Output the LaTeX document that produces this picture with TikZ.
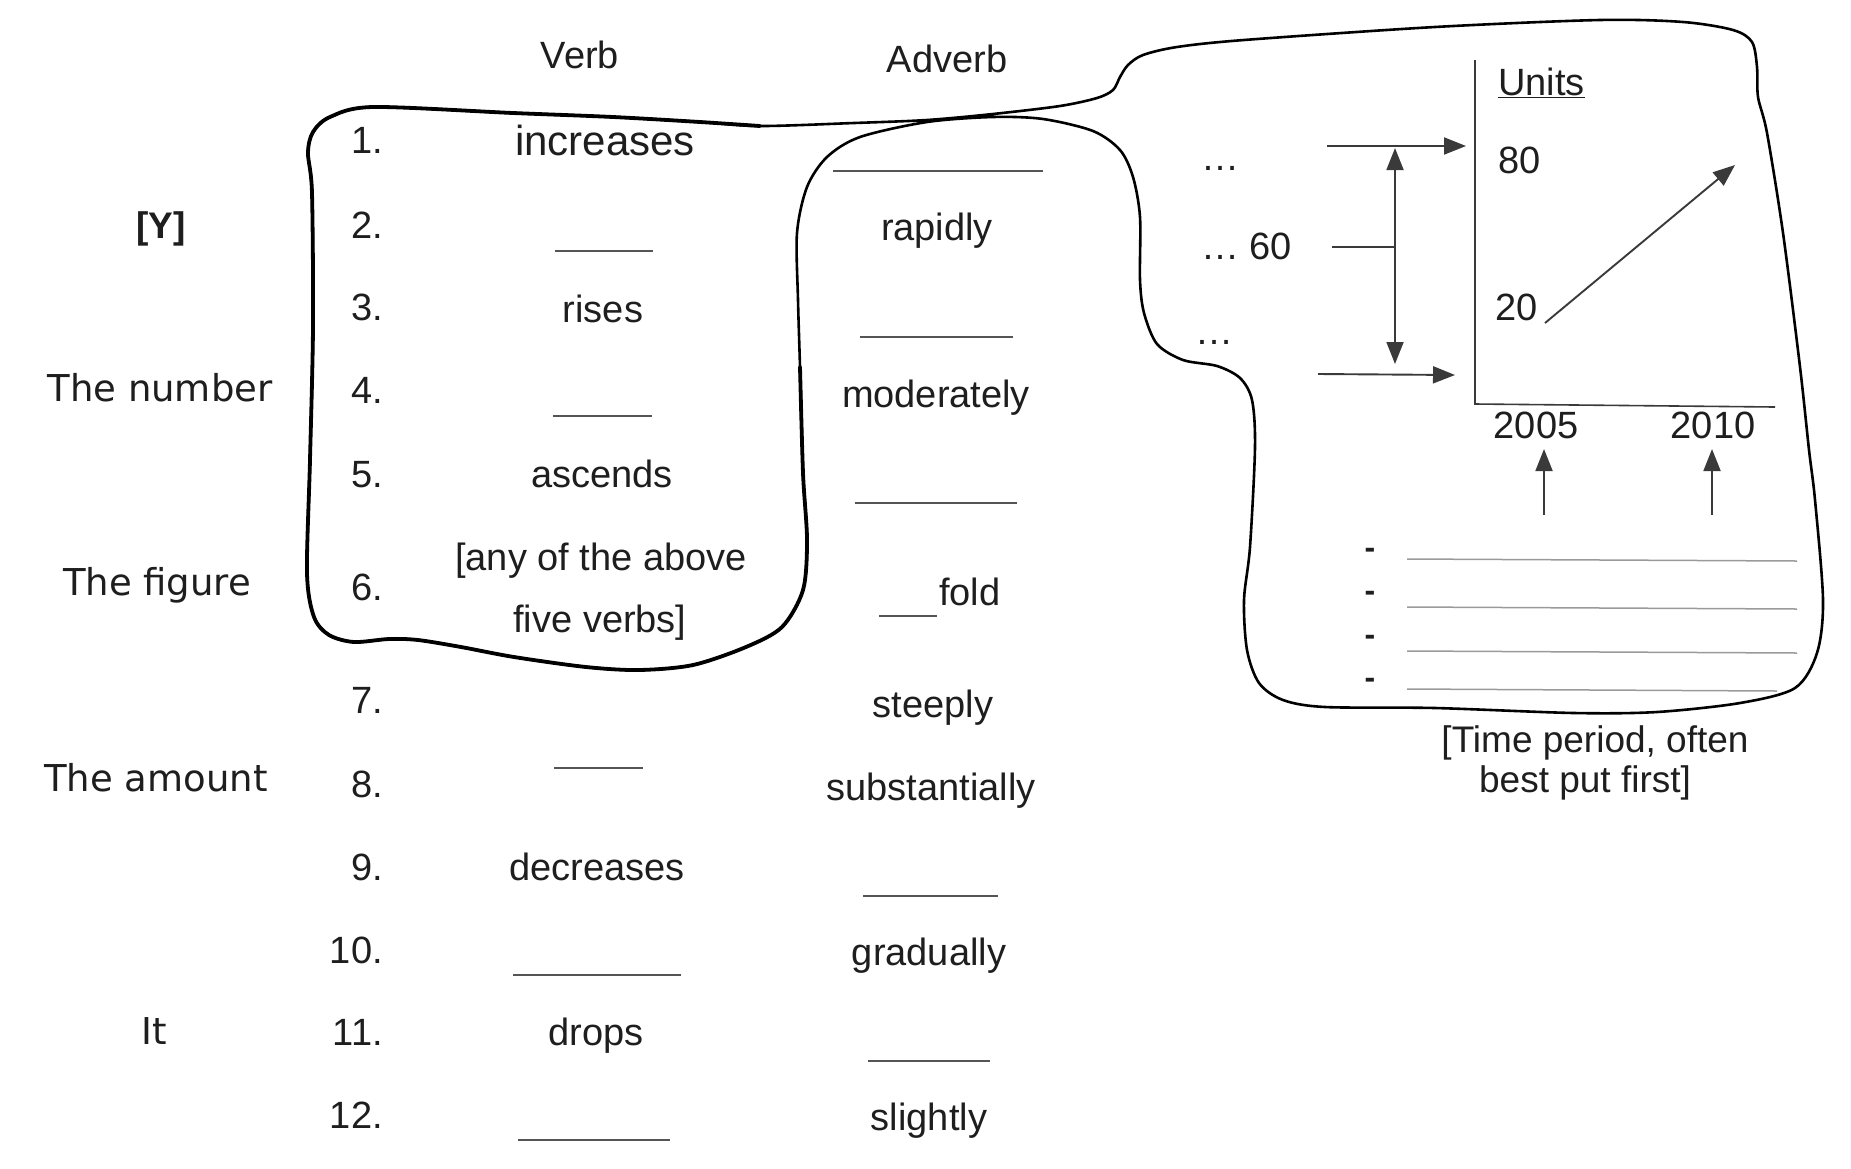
\documentclass[tikz,border=0pt]{standalone}
\usepackage{fontspec}
\setmainfont{Liberation Sans}
\newfontfamily\labfont{DejaVu Sans}
\usetikzlibrary{arrows.meta}
\definecolor{ink}{HTML}{1E1E1E}
\definecolor{arrowgray}{HTML}{3A3A3A}
\definecolor{rulegray}{HTML}{555555}
\definecolor{linegray}{HTML}{9A9A9A}
\tikzset{
  txt/.style={font=\fontsize{38}{46}\selectfont, inner sep=0pt, anchor=base, text=ink},
  numtxt/.style={txt, anchor=base east},
  lefttxt/.style={txt, anchor=base west},
  lab/.style={font=\labfont\fontsize{37}{44}\selectfont, inner sep=0pt, anchor=base, text=ink},
  bullet/.style={txt, font=\fontsize{32}{38}\selectfont\bfseries},
  blank/.style={draw=rulegray, line width=2pt},
  writeline/.style={draw=linegray, line width=1.5pt},
  outline/.style={draw=black, line width=2.6pt, line join=round, line cap=round},
  axisline/.style={draw=arrowgray, line width=1.6pt},
  arr/.style={draw=arrowgray, line width=1.9pt,
    -{Triangle[length=22pt,width=17pt,fill=arrowgray]}},
  dblarr/.style={draw=arrowgray, line width=1.9pt,
    {Triangle[length=22pt,width=17pt,fill=arrowgray]}-{Triangle[length=22pt,width=17pt,fill=arrowgray]}},
  plainline/.style={draw=arrowgray, line width=1.9pt}
}
\begin{document}
\begin{tikzpicture}[x=1pt,y=-1pt]
\useasboundingbox[fill=white] (0,0) rectangle (1851,1168);

% ---- outline enclosing the verbs, the adverb column top and the chart panel
\draw[outline] plot[smooth cycle, tension=0.5] coordinates {
  (373,107) (513,113) (613,117) (700,122) (760,126) (854,123) (927,120)
  (993,114) (1060,106) (1097,98) (1113,90) (1120,77) (1128,65) (1143,55)
  (1177,47) (1244,40) (1435,27) (1600,20) (1683,22) (1733,30) (1752,42)
  (1757,67) (1758,97) (1767,133) (1783,233) (1800,367) (1809,450) (1815,500)
  (1823,600) (1817,653) (1795,688) (1740,703) (1657,712) (1574,713)
  (1435,708) (1325,707) (1283,700) (1259,683) (1247,650) (1244,600)
  (1250,547) (1255,447) (1252,400) (1240,378) (1217,366) (1183,360)
  (1157,344) (1144,313) (1140,280) (1140,217) (1133,177) (1120,150)
  (1093,131) (1043,119) (993,117) (927,122) (860,137) (827,157) (807,187)
  (797,233) (798,300) (800,367) (803,473) (807,540) (803,590) (782,627)
  (746,647) (693,665) (639,670) (586,667) (514,657) (461,647) (418,640)
  (389,639) (354,642) (329,635) (314,617) (307,573) (310,460) (313,327)
  (312,193) (308,153) (313,132) (330,117)};
% heavier stroke round the verb block
\draw[outline, line width=3.8pt] plot[smooth, tension=0.5] coordinates {
  (800,367) (803,473) (807,540) (803,590) (782,627)
  (746,647) (693,665) (639,670) (586,667) (514,657) (461,647) (418,640)
  (389,639) (354,642) (329,635) (314,617) (307,573) (310,460) (313,327)
  (312,193) (308,153) (313,132) (330,117) (373,107) (513,113) (613,117)
  (700,122) (760,126)};

% ---- subject labels
\node[lab, font=\fontsize{37}{44}\selectfont\bfseries] (lY) at (161,238) {[Y]};
\node[lab] (lnum) at (160,401) {The number};
\node[lab] (lfig) at (157,595) {The figure};
\node[lab] (lamt) at (156,791) {The amount};
\node[lab] (lit)  at (154,1044) {It};

% ---- column headers
\node[txt] (hverb) at (580,68) {Verb};
\node[txt] (hadv)  at (947,72) {Adverb};

% ---- row numbers
\node[numtxt] (n1)  at (383,153)  {1.};
\node[numtxt] (n2)  at (383,238)  {2.};
\node[numtxt] (n3)  at (383,320)  {3.};
\node[numtxt] (n4)  at (383,403)  {4.};
\node[numtxt] (n5)  at (383,487)  {5.};
\node[numtxt] (n6)  at (383,600)  {6.};
\node[numtxt] (n7)  at (383,713)  {7.};
\node[numtxt] (n8)  at (383,797)  {8.};
\node[numtxt] (n9)  at (383,880)  {9.};
\node[numtxt] (n10) at (383,963)  {10.};
\node[numtxt] (n11) at (383,1045) {11.};
\node[numtxt] (n12) at (383,1128) {12.};

% ---- verbs
\node[txt, font=\fontsize{42}{50}\selectfont] (v1) at (605,155) {increases};
\node[txt] (v3)  at (603,322)  {rises};
\node[txt] (v5)  at (602,487)  {ascends};
\node[txt] (v6a) at (601,570)  {[any of the above};
\node[txt] (v6b) at (600,632)  {five verbs]};
\node[txt] (v9)  at (597,880)  {decreases};
\node[txt] (v11) at (596,1045) {drops};
\draw[blank] (555,251) -- (653,251);
\draw[blank] (553,416) -- (652,416);
\draw[blank] (554,768) -- (643,768);
\draw[blank] (513,975) -- (681,975);
\draw[blank] (518,1140) -- (670,1140);

% ---- adverbs
\node[txt] (a2)  at (937,240)  {rapidly};
\node[txt] (a4)  at (936,407)  {moderately};
\node[lefttxt] (a6) at (939,605) {fold};
\node[txt] (a7)  at (933,717)  {steeply};
\node[txt] (a8)  at (931,800)  {substantially};
\node[txt] (a10) at (929,965)  {gradually};
\node[txt] (a12) at (929,1130) {slightly};
\draw[blank] (833,171) -- (1043,171);
\draw[blank] (860,337) -- (1013,337);
\draw[blank] (855,503) -- (1017,503);
\draw[blank] (879,616) -- (937,616);
\draw[blank] (863,896) -- (998,896);
\draw[blank] (868,1061) -- (990,1061);

% ---- value labels beside the chart
\node[lefttxt] (d1) at (1201,170) {…};
\node[lefttxt] (d2) at (1201,259) {… 60};
\node[lefttxt] (d3) at (1195,344) {…};

% ---- chart
\coordinate (ytop) at (1475,60);
\coordinate (orig) at (1475,404);
\coordinate (xend) at (1775,407);
\draw[axisline] (ytop) -- (orig) -- (xend);
\node[lefttxt] (units) at (1498,95) {\underline{Units}};
\node[lefttxt] (y80) at (1498,173) {80};
\node[lefttxt] (y20) at (1495,320) {20};
\node[txt] (x05) at (1536,438) {2005};
\node[txt] (x10) at (1713,438) {2010};
\coordinate (trs) at (1545,323);
\coordinate (tre) at (1735,165);
\draw[arr] (trs) -- (tre);

\coordinate (hi0) at (1327,146);
\coordinate (hi1) at (1466,146);
\draw[arr] (hi0) -- (hi1);
\coordinate (mid0) at (1332,247);
\coordinate (mid1) at (1395,247);
\draw[plainline] (mid0) -- (mid1);
\coordinate (rng0) at (1395,148);
\coordinate (rng1) at (1395,364);
\draw[dblarr] (rng0) -- (rng1);
\coordinate (lo0) at (1318,374);
\coordinate (lo1) at (1455,375);
\draw[arr] (lo0) -- (lo1);

\coordinate (u05s) at (1544,515);
\coordinate (u05e) at (1544,449);
\draw[arr] (u05s) -- (u05e);
\coordinate (u10s) at (1712,515);
\coordinate (u10e) at (1712,449);
\draw[arr] (u10s) -- (u10e);

% ---- writing lines
\node[bullet] (b1) at (1370,558) {-};
\node[bullet] (b2) at (1370,601) {-};
\node[bullet] (b3) at (1370,645) {-};
\node[bullet] (b4) at (1370,688) {-};
\draw[writeline] (1407,559) -- (1797,561);
\draw[writeline] (1407,607) -- (1797,609);
\draw[writeline] (1407,651) -- (1797,653);
\draw[writeline] (1407,689) -- (1777,691);

% ---- note under the panel
\node[txt, font=\fontsize{37}{44}\selectfont] (note1) at (1595,752) {[Time period, often};
\node[txt, font=\fontsize{37}{44}\selectfont] (note2) at (1585,792) {best put first]};
\end{tikzpicture}
\end{document}
